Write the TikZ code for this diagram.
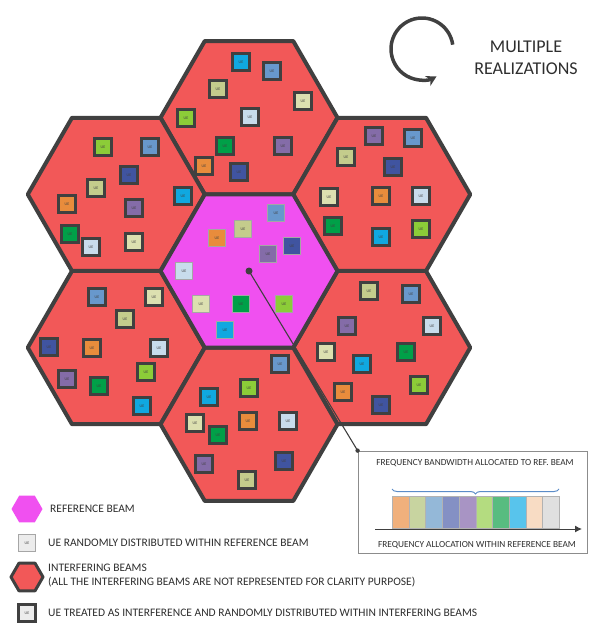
\documentclass[tikz,border=0pt]{standalone}
\usepackage{fontspec}
\setmainfont{Carlito}
\usepackage{xcolor}
\usepackage{tikz}
\usetikzlibrary{positioning,arrows.meta,shapes.geometric,decorations.pathreplacing}

\definecolor{edgegray}{RGB}{64,64,64}
\definecolor{txtgray}{RGB}{46,46,46}
\definecolor{redbeam}{RGB}{242,88,88}
\definecolor{magbeam}{RGB}{240,80,240}
\definecolor{ueOrange}{RGB}{232,140,60}
\definecolor{ueKhaki}{RGB}{196,204,140}
\definecolor{ueSteel}{RGB}{104,152,204}
\definecolor{ueNavy}{RGB}{64,84,160}
\definecolor{uePurple}{RGB}{132,108,168}
\definecolor{ueLime}{RGB}{140,204,56}
\definecolor{ueGreen}{RGB}{0,160,72}
\definecolor{ueCyan}{RGB}{16,168,224}
\definecolor{uePale}{RGB}{200,220,236}
\definecolor{ueCream}{RGB}{220,224,176}
\definecolor{ueGray}{RGB}{236,236,236}
\definecolor{barA}{RGB}{240,176,124}
\definecolor{barB}{RGB}{200,212,160}
\definecolor{barC}{RGB}{148,184,216}
\definecolor{barD}{RGB}{132,144,196}
\definecolor{barE}{RGB}{168,148,196}
\definecolor{barF}{RGB}{180,220,128}
\definecolor{barG}{RGB}{88,188,128}
\definecolor{barH}{RGB}{88,196,236}
\definecolor{barI}{RGB}{248,220,196}
\definecolor{barJ}{RGB}{224,224,224}
\definecolor{bracecol}{RGB}{91,140,200}
\newcommand{\uefont}{\fontsize{4}{4}\selectfont}

\begin{document}
\begin{tikzpicture}[
    x=1pt, y=-1pt,
    hexcell/.style={regular polygon, regular polygon sides=6, minimum size=177pt, inner sep=0pt, draw=edgegray, line width=4pt, line join=round},
    intbeam/.style={hexcell, fill=redbeam},
    refbeam/.style={hexcell, fill=magbeam},
    ue/.style={minimum size=17pt, inner sep=0pt, font=\uefont, text=edgegray},
    refue/.style={ue, draw=black!35, line width=0.8pt},
    intue/.style={ue, minimum size=16.5pt, draw=edgegray, line width=3.2pt},
    lbl/.style={font=\fontsize{11.5}{14}\selectfont, text=txtgray, anchor=west, align=left, inner sep=0pt},
    boxlbl/.style={font=\fontsize{9.3}{11}\selectfont, text=txtgray, inner sep=0pt},
    panel/.style={draw=black!45, line width=0.8pt, fill=white, minimum width=229pt, minimum height=102pt, inner sep=0pt},
    band/.style={draw=black!30, line width=0.6pt, minimum width=16.7pt, minimum height=32pt, inner sep=0pt, anchor=south west},
    arr/.style={-{Stealth[length=10pt, width=11pt]}, line width=3.5pt, draw=edgegray},
    axis/.style={-{Latex[length=7pt, width=7pt]}, line width=1pt, draw=edgegray},
    pointer/.style={line width=1.1pt, draw=edgegray}
]
\useasboundingbox (0,0) rectangle (592,623);

\foreach \nm/\px/\py in {N/249/117.7, NW/116.25/194.4, NE/381.75/194.4, SW/116.25/347.6, SE/381.75/347.6, S/249/424.3}
    \node[intbeam] (beam\nm) at (\px,\py) {};
\node[refbeam] (beamC) at (249,271) {};

\foreach \px/\py/\col [count=\i] in {
    241/62/ueCyan, 272/71/ueSteel, 218/89/ueKhaki, 303/101/ueCream, 186/118/ueLime,
    250/117/uePale, 225/146/ueGreen, 283/146/uePurple, 204/166/ueOrange, 239/172/ueNavy,
    103/147/ueLime, 150/147/ueSteel, 129/175/ueNavy, 96/188/ueKhaki, 183/196/ueCyan,
    67/204/ueOrange, 134/208/uePurple, 70/234/ueGreen, 91/247/uePale, 134/242/ueCream,
    374/136/uePurple, 413/138/ueSteel, 346/157/ueKhaki, 393/167/ueNavy, 329/197/ueCream,
    381/196/ueOrange, 421/196/uePale, 333/226/ueGreen, 381/237/ueCyan, 421/229/ueLime,
    97/297/ueSteel, 154/297/ueCream, 125/319/ueKhaki, 49/347/ueNavy, 92/348/ueOrange,
    159/348/uePale, 146/372/ueLime, 67/379/uePurple, 99/386/ueGreen, 142/406/ueCyan,
    369/291/ueKhaki, 411/294/ueSteel, 347/326/uePurple, 432/326/uePale, 326/352/ueCream,
    406/352/ueGreen, 362/364/ueCyan, 343/392/ueOrange, 419/385/ueLime, 381/405/ueNavy,
    280/364/ueSteel, 249/388/ueLime, 209/397/ueCyan, 195/423/ueCream, 248/421/ueOrange,
    288/421/uePale, 218/435/ueGreen, 204/464/uePurple, 284/461/ueNavy, 247/480/ueKhaki}
    \node[intue, fill=\col] (iue\i) at (\px,\py) {UE};

\foreach \px/\py/\col [count=\i] in {
    276/213/ueSteel, 243/229/ueKhaki, 217/238/ueOrange, 292/246/ueNavy, 268/254/uePurple,
    184/271/uePale, 201/304/ueCream, 241/304/ueGreen, 284/304/ueLime, 225/330/ueCyan}
    \node[refue, fill=\col] (rue\i) at (\px,\py) {UE};

\node[panel] (fbox) at (472.5,502) {};
\draw[pointer] (beamC.center) -- (fbox.north west);
\fill[edgegray] (beamC.center) circle (3.5);
\fill[edgegray] (fbox.north west) circle (2.2);

\node[boxlbl] (bwtitle) at (475,463) {FREQUENCY BANDWIDTH ALLOCATED TO REF. BEAM};
\coordinate (brl) at (392,489);
\coordinate (brr) at (559,489);
\draw[bracecol, line width=1pt, decorate, decoration={brace, amplitude=5pt, mirror}] (brl) -- (brr);
\foreach \col [count=\i] in {barA,barB,barC,barD,barE,barF,barG,barH,barI,barJ}
    \node[band, fill=\col] (band\i) at ({392+(\i-1)*16.7},529) {};
\coordinate (axl) at (375,529);
\coordinate (axr) at (582,529);
\draw[axis] (axl) -- (axr);
\node[boxlbl] (axtitle) at (477,545) {FREQUENCY ALLOCATION WITHIN REFERENCE BEAM};

\coordinate (loopc) at (422,49);
\draw[arr] (loopc) ++(-8:31) arc[start angle=-8, end angle=-298, radius=31];
\node[font=\fontsize{18}{22}\selectfont, text=txtgray, align=center, inner sep=0pt] (realiz) at (526,58) {MULTIPLE\\REALIZATIONS};

\node[refbeam, draw=none, minimum size=31pt] (legref) at (27,509) {};
\node[lbl] (legreftxt) at (50,509) {REFERENCE BEAM};
\node[refue, fill=ueGray, minimum size=17pt] (legrue) at (27,543) {UE};
\node[lbl] (legruetxt) at (48,543) {UE RANDOMLY DISTRIBUTED WITHIN REFERENCE BEAM};
\node[intbeam, minimum size=32pt, line width=3pt] (legint) at (27,577) {};
\node[lbl] (leginttxt) at (48,576) {INTERFERING BEAMS\\(ALL THE INTERFERING BEAMS ARE NOT REPRESENTED FOR CLARITY PURPOSE)};
\node[intue, fill=ueGray] (legiue) at (27,613) {UE};
\node[lbl] (legiuetxt) at (48,613) {UE TREATED AS INTERFERENCE AND RANDOMLY DISTRIBUTED WITHIN INTERFERING BEAMS};
\end{tikzpicture}
\end{document}
